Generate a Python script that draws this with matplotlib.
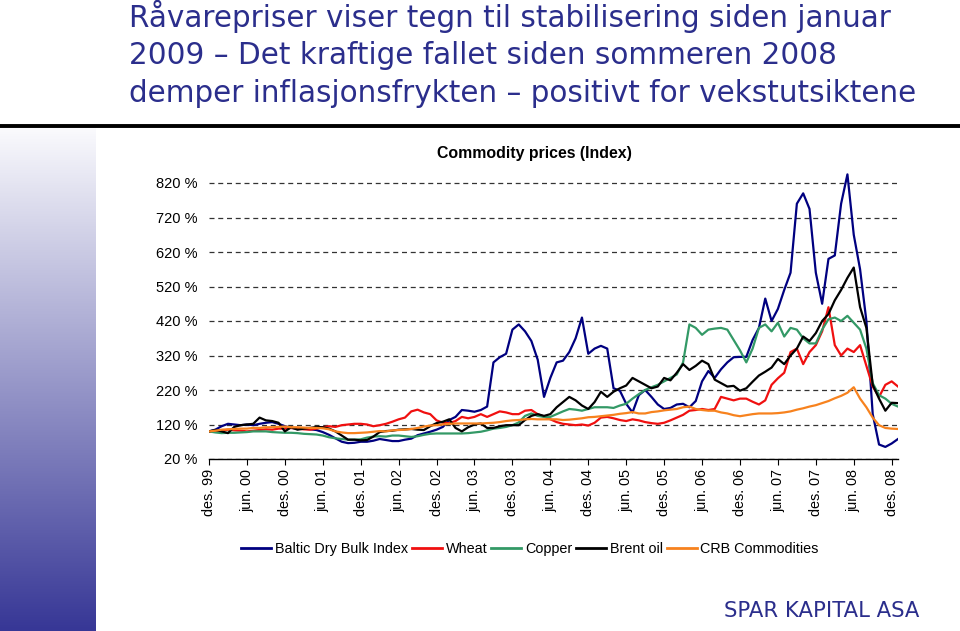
import numpy as np
import matplotlib
matplotlib.use("Agg")
import matplotlib.pyplot as plt
from matplotlib.lines import Line2D
from matplotlib import font_manager
from matplotlib.textpath import TextPath
from matplotlib.font_manager import FontProperties

# ---------------- data (values in % of Dec 1999 level, monthly) ----------------
tick_labels = ["des. 99", "jun. 00", "des. 00", "jun. 01", "des. 01", "jun. 02",
               "des. 02", "jun. 03", "des. 03", "jun. 04", "des. 04", "jun. 05",
               "des. 05", "jun. 06", "des. 06", "jun. 07", "des. 07", "jun. 08",
               "des. 08"]
y_ticks = [20, 120, 220, 320, 420, 520, 620, 720, 820]

baltic = [100, 105, 115, 122, 120, 118, 120, 118, 122, 125,
          127, 122, 115, 110, 108, 108, 106, 104, 98, 90,
          80, 70, 66, 67, 70, 70, 73, 78, 75, 72,
          72, 76, 79, 89, 94, 99, 105, 113, 133, 142,
          162, 160, 157, 162, 172, 300, 315, 325, 395, 410,
          390, 362, 308, 200, 255, 300, 305, 330, 370, 430,
          325, 340, 348, 340, 225, 218, 180, 155, 205, 220,
          200, 178, 165, 168, 178, 180, 170, 188, 245, 275,
          255, 280, 300, 315, 316, 316, 365, 400, 485, 420,
          455, 510, 560, 760, 790, 745, 560, 470, 600, 610,
          760, 845, 670, 570, 420, 150, 62, 55, 65, 78]

wheat = [100, 100, 102, 105, 103, 102, 100, 102, 104, 106,
         105, 108, 108, 110, 108, 106, 105, 108, 112, 115,
         113, 118, 120, 122, 122, 120, 115, 118, 122, 128,
         135, 140, 158, 163, 155, 150, 132, 125, 124, 130,
         142, 138, 142, 150, 142, 150, 158, 155, 150, 150,
         160, 162, 150, 143, 135, 127, 122, 120, 118, 120,
         117, 125, 140, 142, 138, 133, 130, 135, 132, 127,
         124, 122, 125, 132, 140, 148, 160, 162, 165, 162,
         165, 200, 195, 190, 195, 195, 186, 178, 190, 235,
         254, 270, 330, 340, 295, 330, 350, 390, 460, 350,
         320, 340, 330, 350, 290, 230, 200, 235, 245, 230]

copper = [100, 97, 95, 96, 96, 97, 98, 100, 100, 100,
          98, 97, 96, 96, 95, 93, 92, 91, 88, 83,
          80, 78, 76, 76, 77, 82, 85, 86, 85, 88,
          88, 86, 84, 86, 90, 93, 94, 94, 94, 94,
          94, 95, 97, 99, 103, 108, 110, 113, 118, 126,
          145, 152, 145, 142, 142, 150, 158, 165, 163, 160,
          165, 170, 170, 170, 168, 175, 180, 195, 208, 220,
          228, 235, 245, 255, 265, 300, 410, 400, 380, 395,
          398, 400, 395, 365, 335, 300, 340, 400, 410, 390,
          415, 375, 400, 395, 370, 355, 355, 395, 425, 430,
          420, 435, 415, 395, 340, 240, 205, 195, 180, 172]

brent = [100, 104, 100, 95, 113, 118, 120, 122, 140, 132,
         130, 125, 100, 112, 105, 108, 110, 113, 112, 108,
         100, 88, 76, 76, 74, 75, 85, 98, 101, 102,
         105, 106, 107, 105, 104, 115, 124, 128, 135, 110,
         100, 112, 120, 123, 110, 110, 115, 118, 118, 118,
         133, 145, 150, 145, 150, 170, 185, 200, 190, 175,
         165, 185, 215, 200, 215, 225, 233, 255, 245, 235,
         225, 230, 255, 248, 270, 295, 278, 290, 305, 295,
         250, 240, 230, 232, 218, 225, 244, 262, 273, 285,
         310, 295, 320, 340, 375, 362, 385, 420, 440, 480,
         510, 545, 575, 460, 400, 235, 195, 160, 183, 182]

crb = [100, 102, 105, 106, 107, 108, 108, 110, 110, 112,
       112, 113, 114, 112, 112, 111, 110, 110, 109, 106,
       100, 97, 95, 95, 96, 97, 99, 101, 100, 103,
       104, 105, 107, 110, 114, 117, 118, 120, 122, 123,
       123, 123, 123, 123, 124, 125, 127, 130, 132, 133,
       135, 136, 135, 135, 135, 135, 133, 134, 136, 138,
       141, 142, 144, 146, 148, 151, 153, 156, 152, 152,
       156, 158, 161, 163, 165, 170, 172, 165, 162, 160,
       160, 155, 152, 147, 144, 147, 150, 152, 152, 152,
       153, 155, 158, 163, 167, 172, 176, 182, 188, 196,
       203, 212, 228, 195, 170, 140, 118, 110, 108, 107]

series_names = ["Baltic Dry Bulk Index", "Wheat", "Copper", "Brent oil", "CRB Commodities"]
series_colors = ["#000080", "#f01010", "#339966", "#000000", "#f7821e"]

title_lines = ["Råvarepriser viser tegn til stabilisering siden januar",
               "2009 – Det kraftige fallet siden sommeren 2008",
               "demper inflasjonsfrykten – positivt for vekstutsiktene"]
chart_title = "Commodity prices (Index)"
footer = "SPAR KAPITAL ASA"

# ---------------- figure ----------------
W, H = 960, 631
fig = plt.figure(figsize=(W / 100, H / 100), dpi=100)
fig.patch.set_facecolor("white")


def fx(px):
    return px / W


def fy(py):
    return 1 - py / H


# left gradient bar
gax = fig.add_axes([0, 0, 96 / W, (H - 128) / H])
t = np.linspace(0, 1, 256)[:, None, None]
top_c = np.array([250, 250, 253]) / 255
bot_c = np.array([55, 55, 150]) / 255
img = top_c + (bot_c - top_c) * t
gax.imshow(img, aspect="auto", extent=[0, 1, 0, 1], origin="upper")
gax.axis("off")

# horizontal rule under title
fig.add_artist(Line2D([0, 1], [fy(125.5), fy(125.5)], lw=2.8, color="black",
                      transform=fig.transFigure))

# --- pick the title font whose width / cap-height ratio best matches the slide
title_color = "#2b2e8c"
installed = {f.name for f in font_manager.fontManager.ttflist}
candidates = []
for fam in ["DejaVu Sans", "Liberation Sans", "Liberation Sans Narrow", "Roboto",
            "Open Sans", "Lato", "Noto Sans", "Inter"]:
    if fam in installed:
        candidates.append(FontProperties(family=fam))
candidates.append(FontProperties(family="DejaVu Sans", stretch="condensed"))

target_w, target_cap = 762.0, 19.5
best, best_err = None, 1e9
for fp in candidates:
    try:
        wl = TextPath((0, 0), title_lines[0], size=100, prop=fp).get_extents().width
        cap = TextPath((0, 0), "H", size=100, prop=fp).get_extents().height
    except Exception:
        continue
    err = abs(np.log((wl / cap) / (target_w / target_cap)))
    if err < best_err:
        best, best_err, best_w = fp, err, wl
tfp = best
fs_px = 100 * target_w / best_w
fs = fs_px * 72 / 100

baselines = [26.7, 64.0, 101.5]
for line, b in zip(title_lines, baselines):
    fig.text(fx(129), fy(b), line, fontproperties=tfp, fontsize=fs,
             color=title_color, ha="left", va="baseline")

# footer
fw = TextPath((0, 0), footer, size=100, prop=tfp).get_extents().width
ffs = (100 * 193 / fw) * 72 / 100
fig.text(fx(724), fy(617), footer, fontproperties=tfp, fontsize=ffs,
         color=title_color, ha="left", va="baseline")

# chart title
fig.text(fx(534), fy(154), chart_title, fontsize=11.4, weight="bold",
         family="Liberation Sans", ha="center", va="center")

# ---------------- chart ----------------
ax = fig.add_axes([fx(209), 1 - 459 / H, 689 / W, (459 - 169.2) / H])
months = np.arange(len(baltic))
for vals, name, col in zip([baltic, wheat, copper, brent, crb], series_names, series_colors):
    ax.plot(months, vals, color=col, lw=1.6, label=name, solid_joinstyle="round")

ax.set_xlim(0, len(baltic) - 1)
ax.set_ylim(20, 860)
ax.set_yticks(y_ticks)
ax.set_yticklabels([f"{v} %" for v in y_ticks], family="Liberation Sans", fontsize=10.5)
ax.tick_params(axis="y", length=0, pad=8.5)
ax.set_xticks(np.arange(0, len(tick_labels) * 6, 6))
ax.set_xticklabels(tick_labels, rotation=90, family="Liberation Sans", fontsize=10.4)
ax.tick_params(axis="x", direction="out", length=4, width=0.8, pad=3)
ax.yaxis.grid(True, linestyle=(0, (4, 3)), color="#333333", lw=0.9)
ax.set_axisbelow(True)
for s in ["left", "right", "top"]:
    ax.spines[s].set_visible(False)
ax.spines["bottom"].set_linewidth(1.0)
ax.set_facecolor("none")

leg = fig.legend(loc="center", bbox_to_anchor=(fx(530), fy(549)), ncol=5,
                 frameon=False, handlelength=2.1, handletextpad=0.25,
                 columnspacing=0.25, prop={"family": "Liberation Sans", "size": 10.4})
for l in leg.get_lines():
    l.set_linewidth(2.0)

fig.savefig("out.png", dpi=100)
